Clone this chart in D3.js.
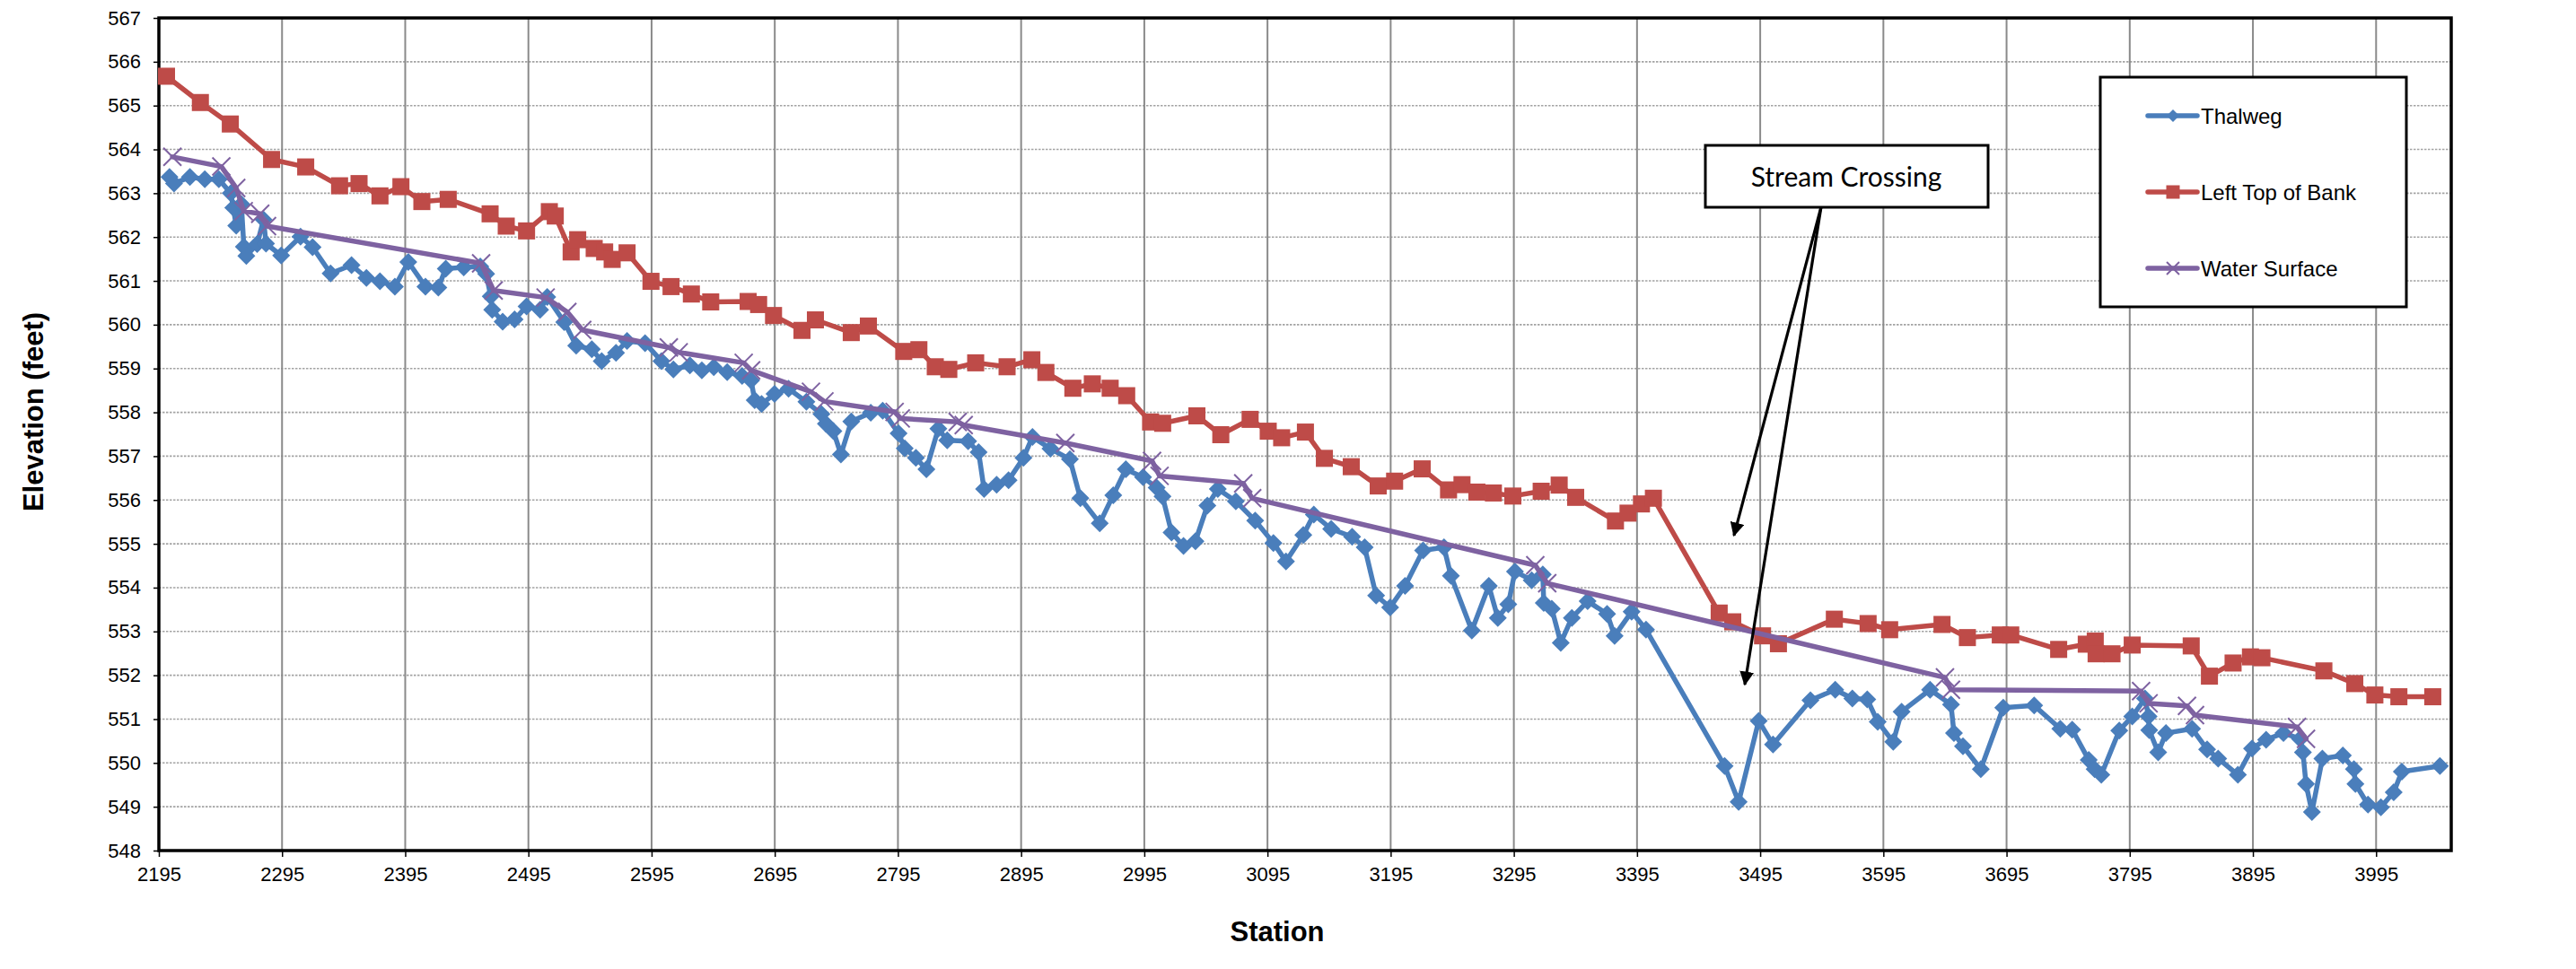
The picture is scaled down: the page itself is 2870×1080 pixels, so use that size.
<!DOCTYPE html>
<html>
<head>
<meta charset="utf-8">
<script src="https://cdn.jsdelivr.net/npm/d3@7"></script>
<style>
  body { margin: 0; background: #fff; }
  svg { display: block; font-family: "Liberation Sans", Arial, sans-serif; }
</style>
</head>
<body>
<svg id="chart" width="2870" height="1080"></svg>
<script>
// ---- data ----
const seriesNames = ["Thalweg", "Left Top of Bank", "Water Surface"];
const stationTicks = [2195, 2295, 2395, 2495, 2595, 2695, 2795, 2895, 2995, 3095,
                      3195, 3295, 3395, 3495, 3595, 3695, 3795, 3895, 3995];
const elevationTicks = [548, 549, 550, 551, 552, 553, 554, 555, 556, 557,
                        558, 559, 560, 561, 562, 563, 564, 565, 566, 567];

const thalweg = [
  [2203.6,563.37],[2207.3,563.22],[2220.2,563.37],[2232.3,563.32],[2243.7,563.32],[2253.4,563.0],
  [2255.4,562.67],[2257.8,562.26],[2262,562.75],[2264,561.78],[2266,561.57],[2274.8,561.84],
  [2280,562.4],[2282,561.85],[2294.3,561.58],[2310,562.01],[2319.8,561.77],[2334.4,561.17],
  [2351.4,561.36],[2363.5,561.07],[2374.5,560.99],[2386.6,560.87],[2397.5,561.43],[2411.4,560.87],
  [2421.9,560.85],[2427.9,561.28],[2442.5,561.31],[2455.9,561.33],[2460.7,561.16],[2464.4,560.65],
  [2465.6,560.34],[2474.1,560.07],[2483.8,560.12],[2493.5,560.42],[2504.5,560.34],[2510.3,560.63],
  [2524.1,560.06],[2533.8,559.52],[2546.5,559.44],[2554.5,559.17],[2566.1,559.36],[2575.1,559.63],
  [2589.7,559.58],[2603,559.17],[2612.7,558.98],[2626.1,559.07],[2635.8,558.96],[2645.5,559.03],
  [2656.4,558.92],[2668.5,558.83],[2675.8,558.73],[2678.7,558.28],[2684.3,558.19],[2694.8,558.42],
  [2706.2,558.54],[2720.7,558.24],[2732.9,557.96],[2736.5,557.74],[2742.6,557.57],[2748.7,557.04],
  [2757.1,557.79],[2772.9,557.99],[2782.6,558.04],[2795.5,557.52],[2800.5,557.18],[2809.6,556.96],
  [2818.1,556.70],[2827.8,557.63],[2835,557.36],[2852,557.34],[2860.5,557.09],[2864.9,556.25],
  [2875.1,556.35],[2884.8,556.45],[2896.9,556.96],[2904.2,557.44],[2918.8,557.17],[2934.6,556.93],
  [2943.1,556.04],[2958.8,555.47],[2969.8,556.11],[2980,556.70],[2994,556.52],[3005,556.28],
  [3009.8,556.08],[3017.1,555.26],[3026.8,554.95],[3036.5,555.06],[3046.2,555.87],[3054.7,556.25],
  [3069.3,555.97],[3085,555.53],[3099.8,555.02],[3110,554.60],[3124.1,555.20],[3132.6,555.67],
  [3146.7,555.34],[3163.7,555.16],[3173.9,554.92],[3183.2,553.82],[3194.6,553.55],[3206.7,554.04],
  [3221.3,554.85],[3238.3,554.92],[3243.9,554.27],[3260.9,553.02],[3274.7,554.04],[3282,553.31],
  [3290.5,553.62],[3295.9,554.37],[3309.5,554.17],[3318.5,554.30],[3319.3,553.65],[3325.8,553.52],
  [3333.1,552.74],[3342.1,553.31],[3354.9,553.69],[3370.7,553.40],[3376.8,552.90],[3390.6,553.45],
  [3402.3,553.04],[3466.1,549.93],[3477.5,549.11],[3493.8,550.96],[3505.4,550.42],[3535.8,551.43],
  [3555.9,551.67],[3569.8,551.47],[3581.9,551.45],[3590.4,550.94],[3603,550.48],[3609.8,551.17],
  [3632.9,551.67],[3649.9,551.33],[3652.3,550.68],[3659.6,550.38],[3674.1,549.86],[3692.3,551.26],
  [3717.4,551.31],[3738.6,550.78],[3748.3,550.76],[3761.7,550.07],[3766.5,549.86],[3771.9,549.73],
  [3786.5,550.74],[3797,551.06],[3807.4,551.47],[3810.3,551.06],[3810.8,550.75],[3818.1,550.24],
  [3824.4,550.68],[3845.6,550.78],[3857.8,550.31],[3866.8,550.10],[3882.8,549.73],[3894.3,550.33],
  [3905.7,550.53],[3919.8,550.68],[3933.2,550.55],[3935.6,550.24],[3938.1,549.52],[3942.9,548.88],
  [3951.4,550.10],[3968,550.17],[3977,549.86],[3978.2,549.52],[3988.4,549.05],[3998.9,548.99],
  [4009.3,549.33],[4015.9,549.80],[4046.8,549.93]
];

const leftTopOfBank = [
  [2201.2,565.67],[2228.7,565.07],[2253,564.58],[2286.5,563.77],[2314.2,563.60],[2341.7,563.17],
  [2357.5,563.22],[2374.5,562.94],[2391.5,563.15],[2408.5,562.81],[2429.9,562.86],[2463.9,562.53],
  [2477,562.25],[2493.5,562.14],[2512,562.58],[2516.8,562.48],[2529.7,561.66],[2535,561.94],
  [2548.4,561.74],[2556.9,561.66],[2563,561.49],[2575.1,561.64],[2594.5,560.99],[2610.8,560.87],
  [2627.3,560.70],[2643,560.52],[2673.4,560.53],[2681.9,560.46],[2694,560.21],[2717.1,559.87],
  [2728,560.11],[2757.1,559.82],[2771,559.97],[2799.7,559.39],[2812,559.43],[2825.3,559.04],
  [2836.3,558.98],[2858.1,559.13],[2883.6,559.04],[2903.7,559.20],[2915.1,558.91],[2937,558.55],
  [2952.8,558.65],[2967.3,558.55],[2980.7,558.38],[3000.1,557.78],[3009.9,557.75],[3037.7,557.92],
  [3057.1,557.49],[3080.9,557.84],[3095.6,557.57],[3106.5,557.42],[3125.8,557.55],[3141.2,556.95],
  [3163,556.76],[3184.9,556.32],[3198.2,556.43],[3220.6,556.71],[3242,556.23],[3252.9,556.35],
  [3265,556.18],[3278.4,556.16],[3294.2,556.09],[3317.2,556.20],[3331.8,556.34],[3345.2,556.06],
  [3377.5,555.52],[3387.7,555.70],[3398.6,555.91],[3408.3,556.04],[3461.7,553.42],[3472.7,553.22],
  [3496.9,552.90],[3509.8,552.72],[3555.2,553.28],[3582.6,553.18],[3600.1,553.04],[3642.6,553.16],
  [3663.2,552.86],[3689.9,552.92],[3698.4,552.92],[3737.3,552.59],[3759.7,552.71],[3767,552.78],
  [3767.7,552.49],[3780.6,552.49],[3797,552.69],[3844.9,552.67],[3859.7,551.98],[3878.9,552.28],
  [3893,552.42],[3902.3,552.40],[3952.6,552.10],[3977.7,551.81],[3994,551.55],[4013.5,551.51],
  [4041,551.51]
];

const waterSurface = [
  [2206,563.83],[2245.7,563.61],[2257.8,563.12],[2263.9,562.59],[2277.3,562.53],[2282.8,562.25],
  [2456.6,561.40],[2466.8,560.78],[2509,560.62],[2526.6,560.29],[2538.7,559.88],[2609,559.48],
  [2617,559.37],[2669.8,559.13],[2675.8,558.96],[2724.4,558.47],[2735.3,558.25],[2792.3,558.01],
  [2797.3,557.86],[2843.5,557.78],[2848.4,557.71],[2930.9,557.30],[3001.3,556.89],[3007.4,556.55],
  [3075.3,556.38],[3082.6,556.04],[3312.4,554.51],[3322.1,554.10],[3645,551.95],[3649.9,551.67],
  [3804.2,551.64],[3810.3,551.36],[3841.5,551.30],[3848,551.09],[3930.8,550.82],[3938.1,550.55]
];

const calloutText = "Stream Crossing";
const calloutFrom = [3544.4, 562.68];
const calloutTargets = [[3473.7, 555.19], [3482.5, 551.79]];

// ---- chart ----
const colors = ["#4a7ebb", "#be4b48", "#7e62a1"];
const plot = {left: 177, right: 2731, top: 20, bottom: 948};

const svg = d3.select("#chart");

const x = d3.scaleLinear().domain([2195, 4056]).range([plot.left, plot.right]);
const y = d3.scaleLinear().domain([548, 567]).range([plot.bottom, plot.top]);

svg.append("rect").attr("width", 2870).attr("height", 1080).attr("fill", "#fff");

// horizontal gridlines (dotted)
svg.append("g")
    .selectAll("line")
    .data(elevationTicks.slice(1, -1))
    .join("line")
    .attr("x1", plot.left).attr("x2", plot.right)
    .attr("y1", d => y(d)).attr("y2", d => y(d))
    .attr("stroke", "#a3a3a3")
    .attr("stroke-width", 1.6)
    .attr("stroke-dasharray", "2.5,1.5");

// vertical gridlines (solid)
svg.append("g")
    .selectAll("line")
    .data(stationTicks.slice(1))
    .join("line")
    .attr("x1", d => x(d)).attr("x2", d => x(d))
    .attr("y1", plot.top).attr("y2", plot.bottom)
    .attr("stroke", "#8a8a8a")
    .attr("stroke-width", 2);

// axes
const xAxis = svg.append("g")
    .attr("transform", `translate(0,${plot.bottom})`)
    .call(d3.axisBottom(x).tickValues(stationTicks).tickSize(7).tickPadding(11).tickFormat(d3.format("d")));
const yAxis = svg.append("g")
    .attr("transform", `translate(${plot.left},0)`)
    .call(d3.axisLeft(y).tickValues(elevationTicks).tickSize(6).tickPadding(14).tickFormat(d3.format("d")));

[xAxis, yAxis].forEach(a => {
    a.select(".domain").remove();
    a.selectAll(".tick line").attr("stroke", "#000").attr("stroke-width", 1.5);
    a.selectAll(".tick text")
        .attr("fill", "#000")
        .style("font-family", "'Liberation Sans', Arial, sans-serif")
        .style("font-size", "22px");
});

// plot frame
svg.append("rect")
    .attr("x", plot.left).attr("y", plot.top)
    .attr("width", plot.right - plot.left).attr("height", plot.bottom - plot.top)
    .attr("fill", "none").attr("stroke", "#000").attr("stroke-width", 3.5);

// axis titles
svg.append("text")
    .attr("x", 1423).attr("y", 1049)
    .attr("text-anchor", "middle")
    .style("font-size", "31px").style("font-weight", "bold")
    .text("Station");
svg.append("text")
    .attr("transform", "translate(48,459) rotate(-90)")
    .attr("text-anchor", "middle")
    .style("font-size", "31px").style("font-weight", "bold")
    .text("Elevation (feet)");

// markers
function drawMarker(g, i, size) {
    const c = colors[i];
    if (i === 0) {
        g.append("path").attr("d", `M0,${-size}L${size},0L0,${size}L${-size},0Z`).attr("fill", c);
    } else if (i === 1) {
        g.append("rect").attr("x", -size).attr("y", -size)
            .attr("width", size * 2).attr("height", size * 2).attr("fill", c);
    } else {
        g.append("path").attr("d", `M${-size},${-size}L${size},${size}M${-size},${size}L${size},${-size}`)
            .attr("stroke", c).attr("stroke-width", 2).attr("fill", "none");
    }
}

const line = d3.line().x(d => x(d[0])).y(d => y(d[1]));
const allSeries = [thalweg, leftTopOfBank, waterSurface];
const markerSize = [10, 9.5, 10];

allSeries.forEach((data, i) => {
    const g = svg.append("g");
    g.append("path")
        .datum(data)
        .attr("d", line)
        .attr("fill", "none")
        .attr("stroke", colors[i])
        .attr("stroke-width", 5.5)
        .attr("stroke-linejoin", "round")
        .attr("stroke-linecap", "round");
    g.selectAll("g.pt")
        .data(data)
        .join("g")
        .attr("class", "pt")
        .attr("transform", d => `translate(${x(d[0])},${y(d[1])})`)
        .each(function () { drawMarker(d3.select(this), i, markerSize[i]); });
});

// legend
const legend = svg.append("g").attr("transform", "translate(2340,86)");
legend.append("rect")
    .attr("width", 341).attr("height", 256)
    .attr("fill", "#fff").attr("stroke", "#000").attr("stroke-width", 3);
seriesNames.forEach((name, i) => {
    const row = legend.append("g").attr("transform", `translate(0,${43 + i * 85})`);
    row.append("line")
        .attr("x1", 53).attr("x2", 108)
        .attr("stroke", colors[i]).attr("stroke-width", 5.5).attr("stroke-linecap", "round");
    const m = row.append("g").attr("transform", "translate(81,0)");
    drawMarker(m, i, i === 1 ? 7.5 : 7);
    row.append("text")
        .attr("x", 112).attr("y", 0).attr("dy", "0.36em")
        .style("font-size", "24px")
        .text(name);
});

// stream crossing callout
svg.append("defs").append("marker")
    .attr("id", "arrow")
    .attr("viewBox", "0 0 10 10")
    .attr("refX", 9).attr("refY", 5)
    .attr("markerWidth", 5).attr("markerHeight", 5)
    .attr("markerUnits", "strokeWidth")
    .attr("orient", "auto")
    .append("path").attr("d", "M0,0L10,5L0,10Z").attr("fill", "#000");

calloutTargets.forEach(t => {
    svg.append("line")
        .attr("x1", x(calloutFrom[0])).attr("y1", y(calloutFrom[1]))
        .attr("x2", x(t[0])).attr("y2", y(t[1]))
        .attr("stroke", "#000").attr("stroke-width", 3.2)
        .attr("marker-end", "url(#arrow)");
});

const callout = svg.append("g").attr("transform", "translate(1900,162)");
callout.append("rect")
    .attr("width", 315).attr("height", 69)
    .attr("fill", "#fff").attr("stroke", "#000").attr("stroke-width", 3);
callout.append("text")
    .attr("x", 157).attr("y", 46)
    .attr("text-anchor", "middle")
    .style("font-family", "Lato, 'Open Sans', sans-serif")
    .style("font-size", "30px")
    .text(calloutText);
</script>
</body>
</html>
